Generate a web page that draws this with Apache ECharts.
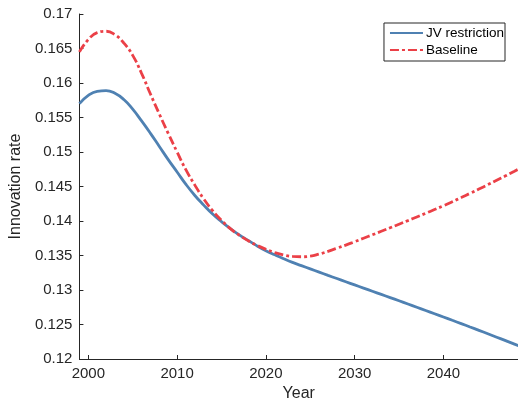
<!DOCTYPE html>
<html>
<head>
<meta charset="utf-8">
<script src="https://cdn.jsdelivr.net/npm/echarts@6/dist/echarts.min.js"></script>
<style>
html,body{margin:0;padding:0;background:#fff;}
#chart{width:518px;height:407px;}
</style>
</head>
<body>
<div id="chart"></div>
<script>
var years = [1999,2000,2001,2002,2003,2004,2005,2006,2007,2008,2009,2010,2011,2012,2013,2014,2015,2016,2017,2018,2019,2020,2021,2022,2023,2024,2025,2026,2027,2028,2029,2030,2031,2032,2033,2034,2035,2036,2037,2038,2039,2040,2041,2042,2043,2044,2045,2046,2047,2048,2049];
var jvRestriction = [0.1570,0.1582,0.1588,0.1589,0.1585,0.1576,0.1562,0.1545,0.1527,0.1508,0.1489,0.1471,0.1453,0.1437,0.1423,0.1410,0.1399,0.1389,0.1380,0.1372,0.1364,0.1357,0.13510,0.13453,0.13400,0.13353,0.13306,0.13259,0.13212,0.13166,0.13120,0.13074,0.13028,0.12982,0.12936,0.12890,0.12844,0.12797,0.12750,0.12703,0.12656,0.12609,0.12561,0.12513,0.12464,0.12415,0.12366,0.12316,0.12266,0.12216,0.12166];
var baseline = [0.1645,0.1663,0.1673,0.1675,0.1670,0.1658,0.1640,0.1614,0.1584,0.1555,0.1527,0.1500,0.1474,0.1452,0.1432,0.1415,0.1401,0.13890,0.13795,0.13715,0.13647,0.13590,0.13543,0.13508,0.13487,0.13482,0.13490,0.13520,0.13560,0.13605,0.13651,0.13700,0.13750,0.13800,0.13851,0.13902,0.13954,0.14006,0.14059,0.14112,0.14166,0.14221,0.14280,0.14340,0.14401,0.14463,0.14526,0.14590,0.14655,0.14721,0.14788];
var seriesNames = ['JV restriction', 'Baseline'];

function pairs(xs, ys){ return xs.map(function(x,i){ return [x, ys[i]]; }); }

var font = 'Liberation Sans, Arial, Helvetica, sans-serif';
var axisColor = '#262626';
var chart = echarts.init(document.getElementById('chart'), null, {renderer:'canvas'});
chart.setOption({
  animation: false,
  backgroundColor: '#fff',
  grid: {left: 76, right: 0, top: 14, bottom: 48, containLabel: false},
  legend: {
    orient: 'vertical',
    right: 13, top: 23,
    padding: [3, 1, 4, 5],
    itemGap: 3,
    itemWidth: 33, itemHeight: 6,
    borderColor: '#262626', borderWidth: 1,
    backgroundColor: '#fff',
    itemStyle: {opacity: 0},
    textStyle: {fontFamily: font, fontSize: 13.5, lineHeight: 14, color: '#000', padding: [0,0,0,-2]},
    data: seriesNames
  },
  xAxis: {
    type: 'value', min: 1999, max: 2048.4,
    name: 'Year', nameLocation: 'middle', nameGap: 27,
    nameTextStyle: {fontFamily: font, fontSize: 16, color: axisColor},
    axisLine: {lineStyle: {color: axisColor, width: 1}},
    axisTick: {inside: true, length: 4, lineStyle: {color: axisColor}},
    axisLabel: {fontFamily: font, fontSize: 15, color: axisColor, margin: 7, showMinLabel: false, showMaxLabel: false,
      formatter: function(v){ return String(v); }},
    splitLine: {show: false}
  },
  yAxis: {
    type: 'value', min: 0.12, max: 0.17, interval: 0.005,
    name: 'Innovation rate', nameLocation: 'middle', nameGap: 44, nameRotate: 90,
    nameTextStyle: {fontFamily: font, fontSize: 16, color: axisColor},
    axisLine: {show: true, lineStyle: {color: axisColor, width: 1}},
    axisTick: {show: true, inside: true, length: 4, lineStyle: {color: axisColor}},
    axisLabel: {fontFamily: font, fontSize: 15, color: axisColor, margin: 7,
      formatter: function(v){ return String(+v.toFixed(3)); }},
    splitLine: {show: false}
  },
  series: [
    {name: seriesNames[0], type: 'line', data: pairs(years, jvRestriction), smooth: 0.5,
     showSymbol: false, symbol: 'none', clip: true,
     lineStyle: {color: '#4F81B2', width: 2.8}, itemStyle: {color: '#4F81B2'}},
    {name: seriesNames[1], type: 'line', data: pairs(years, baseline), smooth: 0.5,
     showSymbol: false, symbol: 'none', clip: true,
     lineStyle: {color: '#EB4047', width: 2.8, type: [9, 3, 3, 3]}, itemStyle: {color: '#EB4047'}}
  ]
});
</script>
</body>
</html>
